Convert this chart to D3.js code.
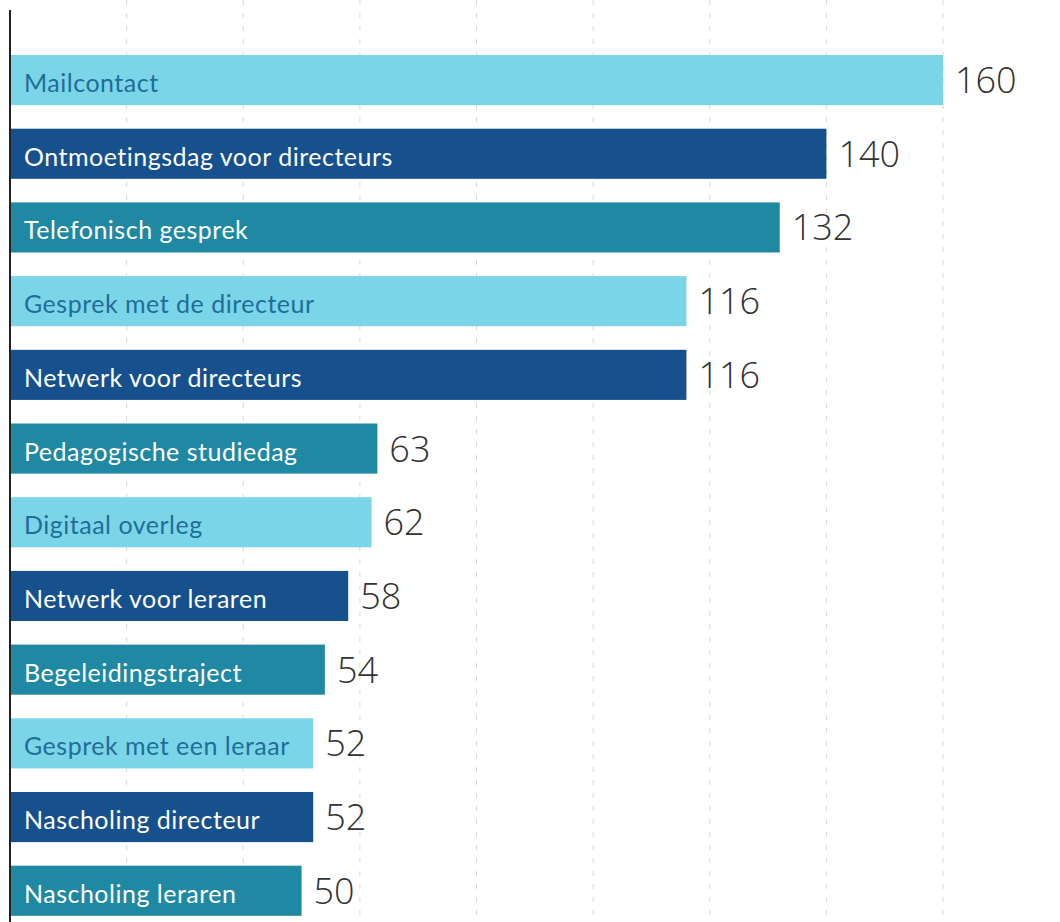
<!DOCTYPE html>
<html>
<head>
<meta charset="utf-8">
<script src="https://cdn.jsdelivr.net/npm/d3@7"></script>
<style>
  body { margin: 0; background: #fff; }
</style>
</head>
<body>
<div id="container"></div>
<script>
// Data
const categories = [
  "Mailcontact",
  "Ontmoetingsdag voor directeurs",
  "Telefonisch gesprek",
  "Gesprek met de directeur",
  "Netwerk voor directeurs",
  "Pedagogische studiedag",
  "Digitaal overleg",
  "Netwerk voor leraren",
  "Begeleidingstraject",
  "Gesprek met een leraar",
  "Nascholing directeur",
  "Nascholing leraren"
];
const values = [160, 140, 132, 116, 116, 63, 62, 58, 54, 52, 52, 50];
const gridTicks = [20, 40, 60, 80, 100, 120, 140, 160];

const width = 1060;
const height = 922;
const step = 73.7;
const firstTop = 55;

// three alternating bar colours: light cyan, dark blue, teal
const barColors = ["#7bd5e8", "#16518d", "#1f88a2"];
const textColors = ["#1e6e98", "#ffffff", "#ffffff"];

const x = d3.scaleLinear().domain([0, 160]).range([10, 943]);
const y = d3.scaleBand()
  .domain(categories)
  .range([firstTop, firstTop + step * (categories.length - 0.32)])
  .paddingInner(0.32)
  .paddingOuter(0);

const svg = d3.select("#container")
  .append("svg")
  .attr("width", width)
  .attr("height", height)
  .attr("viewBox", [0, 0, width, height]);

// dashed vertical gridlines
svg.append("g")
  .selectAll("line")
  .data(gridTicks)
  .join("line")
  .attr("x1", (d) => x(d))
  .attr("x2", (d) => x(d))
  .attr("y1", 0)
  .attr("y2", height)
  .attr("stroke", "#d8d8d8")
  .attr("stroke-width", 1)
  .attr("stroke-dasharray", "5,8");

const rows = svg.append("g")
  .selectAll("g")
  .data(categories.map((c, i) => ({ name: c, value: values[i], i })))
  .join("g")
  .attr("transform", (d) => `translate(0,${y(d.name)})`);

rows.append("rect")
  .attr("x", x(0))
  .attr("width", (d) => x(d.value) - x(0))
  .attr("height", y.bandwidth())
  .attr("fill", (d) => barColors[d.i % 3]);

rows.append("text")
  .attr("x", 24)
  .attr("y", y.bandwidth() / 2 + 12)
  .attr("fill", (d) => textColors[d.i % 3])
  .attr("font-family", "Lato, 'Noto Sans', sans-serif")
  .attr("font-size", 25)
  .attr("letter-spacing", 0.5)
  .text((d) => d.name);

rows.append("text")
  .attr("x", (d) => x(d.value) + 12)
  .attr("y", y.bandwidth() / 2 + 13)
  .attr("fill", "#333")
  .attr("font-family", "'Open Sans', 'Noto Sans', sans-serif")
  .attr("font-weight", 300)
  .attr("font-size", 36)
  .text((d) => d.value);

// left axis line
svg.append("line")
  .attr("x1", x(0))
  .attr("x2", x(0))
  .attr("y1", 10)
  .attr("y2", height)
  .attr("stroke", "#222")
  .attr("stroke-width", 2);
</script>
</body>
</html>
